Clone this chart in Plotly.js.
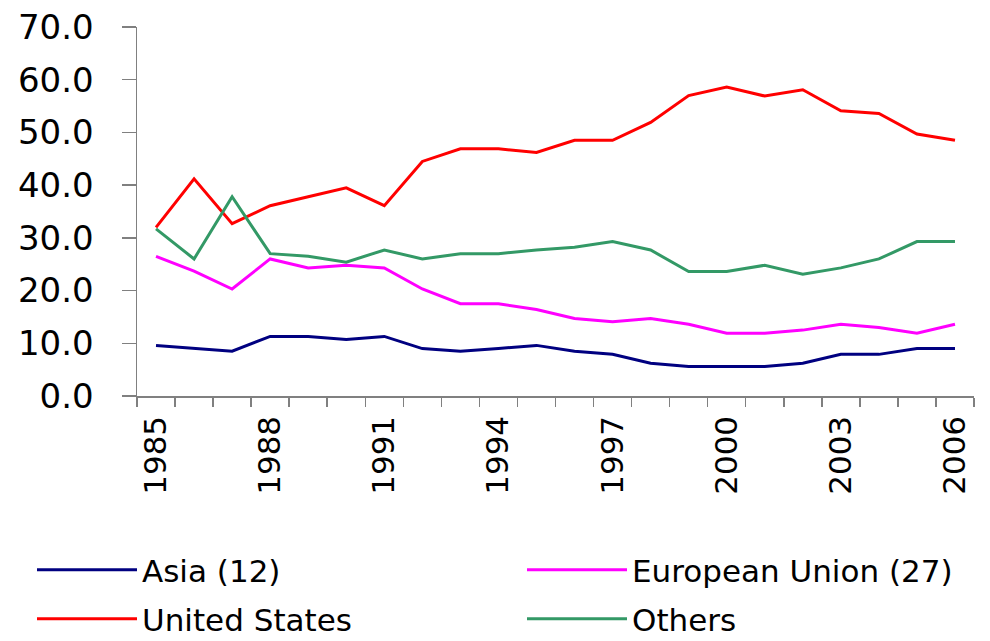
<!DOCTYPE html>
<html>
<head>
<meta charset="utf-8">
<script src="https://cdn.plot.ly/plotly-3.0.1.min.js"></script>
<style>html,body{margin:0;padding:0;background:#fff;}#chart{width:990px;height:641px;}</style>
</head>
<body>
<div id="chart"></div>
<script>
const years = [1985,1986,1987,1988,1989,1990,1991,1992,1993,1994,1995,1996,1997,1998,1999,2000,2001,2002,2003,2004,2005,2006];
const tickYears = [1985,1988,1991,1994,1997,2000,2003,2006];
const asia = [9.6,9.0,8.5,11.3,11.3,10.7,11.3,9.0,8.5,9.0,9.6,8.5,7.9,6.2,5.6,5.6,5.6,6.2,7.9,7.9,9.0,9.0];
const eu = [26.5,23.7,20.3,26.0,24.3,24.8,24.3,20.3,17.5,17.5,16.4,14.7,14.1,14.7,13.6,11.9,11.9,12.5,13.6,13.0,11.9,13.6];
const us = [32.0,41.2,32.7,36.1,37.8,39.5,36.1,44.5,46.9,46.9,46.2,48.5,48.5,51.9,57.0,58.6,56.9,58.1,54.1,53.6,49.7,48.5];
const others = [31.7,26.0,37.8,27.0,26.5,25.4,27.7,26.0,27.0,27.0,27.7,28.2,29.3,27.7,23.6,23.6,24.8,23.1,24.3,26.0,29.3,29.3];

const mk = (name, y, color, legend) => ({
  x: years, y: y, name: name, type: 'scatter', mode: 'lines',
  line: {color: color, width: 3}, legend: legend, hoverinfo: 'skip'
});
const traces = [
  mk('Asia (12)', asia, '#000080', 'legend'),
  mk('European Union (27)', eu, '#FF00FF', 'legend2'),
  mk('United States', us, '#FF0000', 'legend3'),
  mk('Others', others, '#339966', 'legend4')
];
const legFont = {family: 'DejaVu Sans, sans-serif', size: 31, color: '#000'};
const leg = (xpx, ypx) => ({
  orientation: 'h', xref: 'container', yref: 'container',
  xanchor: 'left', yanchor: 'middle',
  x: xpx / 990, y: 1 - ypx / 641,
  font: legFont, itemwidth: 100,
  bgcolor: 'rgba(0,0,0,0)', borderwidth: 0
});
const layout = {
  width: 990, height: 641,
  margin: {l: 137, r: 16, t: 27, b: 245},
  paper_bgcolor: '#fff', plot_bgcolor: '#fff',
  showlegend: true,
  xaxis: {
    range: [1984.5, 2006.5], tickvals: tickYears, ticktext: tickYears.map(String),
    tickangle: -90, ticks: '', ticklabelstandoff: 6, automargin: false,
    tickfont: {family: 'DejaVu Sans, sans-serif', size: 31, color: '#000'},
    showgrid: false, zeroline: false, showline: true, linecolor: '#808080', linewidth: 1.5,
    minor: {tick0: 1984.5, dtick: 1, ticks: 'outside', ticklen: 9, tickcolor: '#808080', tickwidth: 1.5, showgrid: false}
  },
  yaxis: {
    range: [0, 70], dtick: 10, tickformat: '.1f', automargin: false,
    ticks: 'outside', ticklen: 14, tickcolor: '#808080', tickwidth: 1.5,
    tickfont: {family: 'DejaVu Sans, sans-serif', size: 34, color: '#000'},
    ticklabelstandoff: 21,
    showgrid: false, zeroline: false, showline: true, linecolor: '#808080', linewidth: 1.5
  },
  legend: leg(32, 570),
  legend2: leg(522, 570),
  legend3: leg(32, 619),
  legend4: leg(522, 619)
};
Plotly.newPlot('chart', traces, layout, {displayModeBar: false, staticPlot: true});
</script>
</body>
</html>
